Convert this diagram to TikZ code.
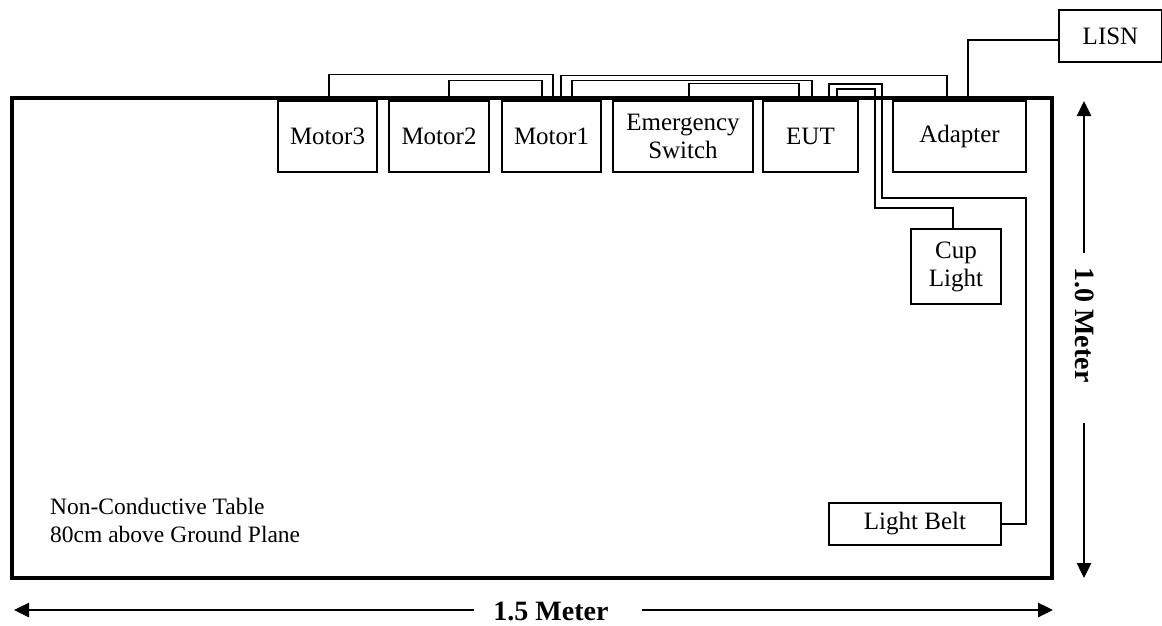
\documentclass[tikz,border=0pt]{standalone}
\usepackage{fontspec}
\setmainfont{Liberation Serif}
\usetikzlibrary{arrows.meta}
\begin{document}
\begin{tikzpicture}[x=1pt,y=-1pt,
  box/.style={draw,line width=1.2pt,inner sep=0pt,align=center,font=\fontsize{25}{28}\selectfont},
  cable/.style={draw,line width=1.2pt},
  dimarrow/.style={line width=2.5pt,-{Triangle[length=15pt,width=14pt]}},
  dimlabel/.style={font=\fontsize{28}{30}\selectfont\bfseries,inner sep=0pt}]
\useasboundingbox (0,0) rectangle (1162,625);
% table
\node[draw,line width=4pt,minimum width=1040pt,minimum height=480pt,inner sep=0pt] (table) at (532,338) {};
\node[anchor=north west,inner sep=0pt,align=left,font=\fontsize{23.5}{28}\selectfont] (tabletext) at (50,498) {Non-Conductive Table\\80cm above Ground Plane};
% devices
\node[box,minimum width=99pt,minimum height=71pt] (m3) at (327.5,136.5) {Motor3};
\node[box,minimum width=100pt,minimum height=71pt] (m2) at (439,136.5) {Motor2};
\node[box,minimum width=99pt,minimum height=71pt] (m1) at (551.5,136.5) {Motor1};
\node[box,minimum width=140pt,minimum height=71pt] (es) at (683,136.5) {Emergency\\Switch};
\node[box,minimum width=95pt,minimum height=71pt] (eut) at (810.5,136.5) {EUT};
\node[box,minimum width=133pt,minimum height=71pt] (ad) at (959.5,136.5) {Adapter};
\node[box,minimum width=103pt,minimum height=52pt] (lisn) at (1110.5,36) {LISN};
\node[box,minimum width=90pt,minimum height=75pt] (cl) at (956,266.5) {Cup\\Light};
\node[box,minimum width=172pt,minimum height=42pt] (lb) at (915,524) {Light Belt};
% cables
\draw[cable] ([xshift=1.5pt]m3.north) -- ++(0,-26) -| ([xshift=1.5pt]m1.north);
\draw[cable] ([xshift=10pt]m2.north) -- ++(0,-20) -| ([xshift=-9.5pt]m1.north);
\draw[cable] ([xshift=9.5pt]m1.north) -- ++(0,-25) -| ([xshift=-12.5pt]ad.north);
\draw[cable] ([xshift=20.5pt]m1.north) -- ++(0,-20) -| ([xshift=1.5pt]eut.north);
\draw[cable] ([xshift=6pt]es.north) -- ++(0,-17) -| ([xshift=-11.5pt]eut.north);
\draw[cable] ([xshift=18.5pt]eut.north) |- (882,84) |- (1026,198) |- (lb.east);
\draw[cable] ([xshift=26.5pt]eut.north) |- (875,89) |- (953,208) -- ([xshift=-3pt]cl.north);
\draw[cable] ([xshift=8.5pt]ad.north) |- ([yshift=-4pt]lisn.west);
% dimensions
\node[dimlabel,rotate=-90,anchor=base] (vlabel) at (1075,325) {1.0 Meter};
\coordinate (vtop) at (1084,101);
\coordinate (vbot) at (1084,578);
\draw[dimarrow] (1084,253) -- (vtop);
\draw[dimarrow] (1084,423) -- (vbot);
\node[dimlabel,anchor=base] (hlabel) at (551,620) {1.5 Meter};
\coordinate (hleft) at (14,610);
\coordinate (hright) at (1053,610);
\draw[dimarrow] (474,610) -- (hleft);
\draw[dimarrow] (642,610) -- (hright);
\end{tikzpicture}
\end{document}
